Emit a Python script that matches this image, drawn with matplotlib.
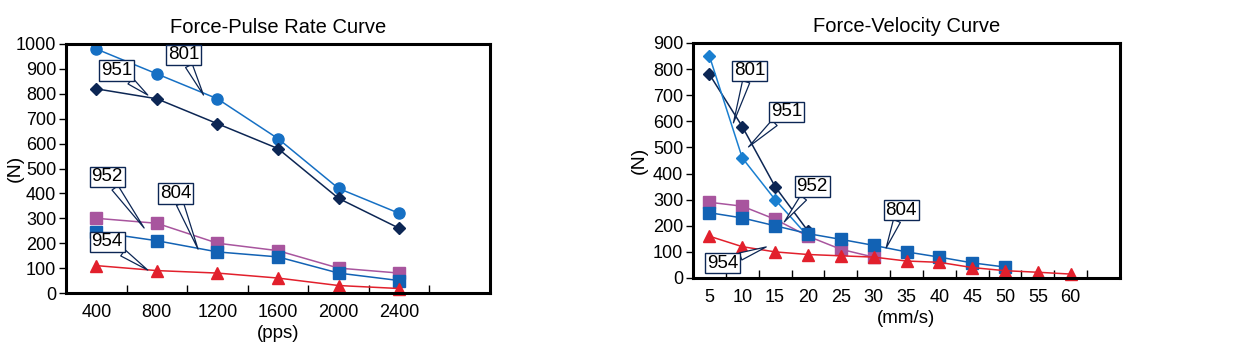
import matplotlib.pyplot as plt
import numpy as np

plt.rcParams['font.family'] = ['Liberation Sans', 'DejaVu Sans']

# Force-Pulse Rate data
pps = ["400", "800", "1200", "1600", "2000", "2400"]
pr_801 = [980, 880, 780, 620, 420, 320]
pr_951 = [820, 780, 680, 580, 380, 260]
pr_952 = [300, 280, 200, 170, 100, 80]
pr_804 = [245, 210, 165, 145, 80, 50]
pr_954 = [110, 90, 80, 60, 30, 18]

# Force-Velocity data
mms = ["5", "10", "15", "20", "25", "30", "35", "40", "45", "50", "55", "60"]
fv_951 = [780, 580, 350, 180]
fv_801 = [850, 460, 300, 160]
fv_952 = [290, 275, 225, 160, 110, 80]
fv_804 = [250, 230, 200, 170, 148, 125, 100, 80, 58, 42]
fv_954 = [160, 120, 100, 90, 85, 80, 65, 60, 40, 28, 22, 15]

c_801 = "#1670c4"
c_951 = "#0c2654"
c_952 = "#a8559e"
c_804 = "#1262b4"
c_954 = "#e2202c"
c_box = "#0c2654"


def callout(ax, text, box_xy, target_xy):
    ax.annotate(
        text, xy=target_xy, xytext=box_xy,
        ha="center", va="center", fontsize=13.5, zorder=10,
        bbox=dict(boxstyle="square,pad=0.1", fc="white", ec=c_box, lw=1.0),
        arrowprops=dict(arrowstyle="wedge,tail_width=0.4,shrink_factor=0.5",
                        fc="white", ec=c_box, lw=0.9, shrinkA=0, shrinkB=0),
    )


def style_axes(ax, labels, ymax, xlabel, title):
    n = len(labels)
    ax.set_xlim(-0.5, n + 0.5)
    ax.set_ylim(0, ymax)
    ax.set_yticks(np.arange(0, ymax + 1, 100))
    ax.set_xticks(np.arange(n), labels)
    ax.set_xticks(np.arange(n + 1) + 0.5, minor=True)
    ax.tick_params(axis="x", which="major", length=0, labelsize=13, pad=8)
    ax.tick_params(axis="x", which="minor", direction="in", length=6, width=1)
    ax.tick_params(axis="y", direction="out", length=5, width=1, labelsize=13, pad=2)
    for s in ax.spines.values():
        s.set_linewidth(2.2)
    ax.set_ylabel("(N)", fontsize=14)
    ax.set_xlabel(xlabel, fontsize=13.5, labelpad=3)
    ax.set_title(title, fontsize=14.5, pad=8)


fig = plt.figure(figsize=(12.4, 3.48), dpi=100)
ax1 = fig.add_axes([66 / 1240, 1 - 293 / 348, 424 / 1240, 249 / 348])
ax2 = fig.add_axes([693 / 1240, 1 - 278 / 348, 427 / 1240, 235 / 348])

x = np.arange(len(pps))
ax1.plot(x, pr_801, color=c_801, lw=1.1, marker="o", ms=8, clip_on=False)
ax1.plot(x, pr_951, color=c_951, lw=1.1, marker="D", ms=6)
ax1.plot(x, pr_952, color=c_952, lw=1.1, marker="s", ms=8)
ax1.plot(x, pr_804, color=c_804, lw=1.1, marker="s", ms=8)
ax1.plot(x, pr_954, color=c_954, lw=1.1, marker="^", ms=8, clip_on=False)
style_axes(ax1, pps, 1000, "(pps)", "Force-Pulse Rate Curve")
ax1.yaxis.set_label_coords(-42 / 424, 0.5)

callout(ax1, "801", (1.44, 956), (1.77, 795))
callout(ax1, "951", (0.34, 895), (0.85, 795))
callout(ax1, "952", (0.18, 466), (0.79, 261))
callout(ax1, "804", (1.31, 401), (1.68, 176))
callout(ax1, "954", (0.18, 205), (0.85, 92))

ax2.plot(np.arange(len(fv_951)), fv_951, color=c_951, lw=1.1, marker="D", ms=6)
ax2.plot(np.arange(len(fv_801)), fv_801, color="#1a7fd0", lw=1.1, marker="D", ms=6)
ax2.plot(np.arange(len(fv_952)), fv_952, color=c_952, lw=1.1, marker="s", ms=8)
ax2.plot(np.arange(len(fv_804)), fv_804, color=c_804, lw=1.1, marker="s", ms=8)
ax2.plot(np.arange(len(fv_954)), fv_954, color=c_954, lw=1.1, marker="^", ms=8, clip_on=False)
style_axes(ax2, mms, 900, "(mm/s)", "Force-Velocity Curve")
ax2.yaxis.set_label_coords(-45 / 427, 0.5)

callout(ax2, "801", (1.22, 793), (0.73, 594))
callout(ax2, "951", (2.34, 636), (1.19, 502))
callout(ax2, "952", (3.13, 349), (2.28, 215))
callout(ax2, "804", (5.84, 260), (5.38, 115))
callout(ax2, "954", (0.40, 57), (1.73, 119))

fig.savefig("out.png", dpi=100)
